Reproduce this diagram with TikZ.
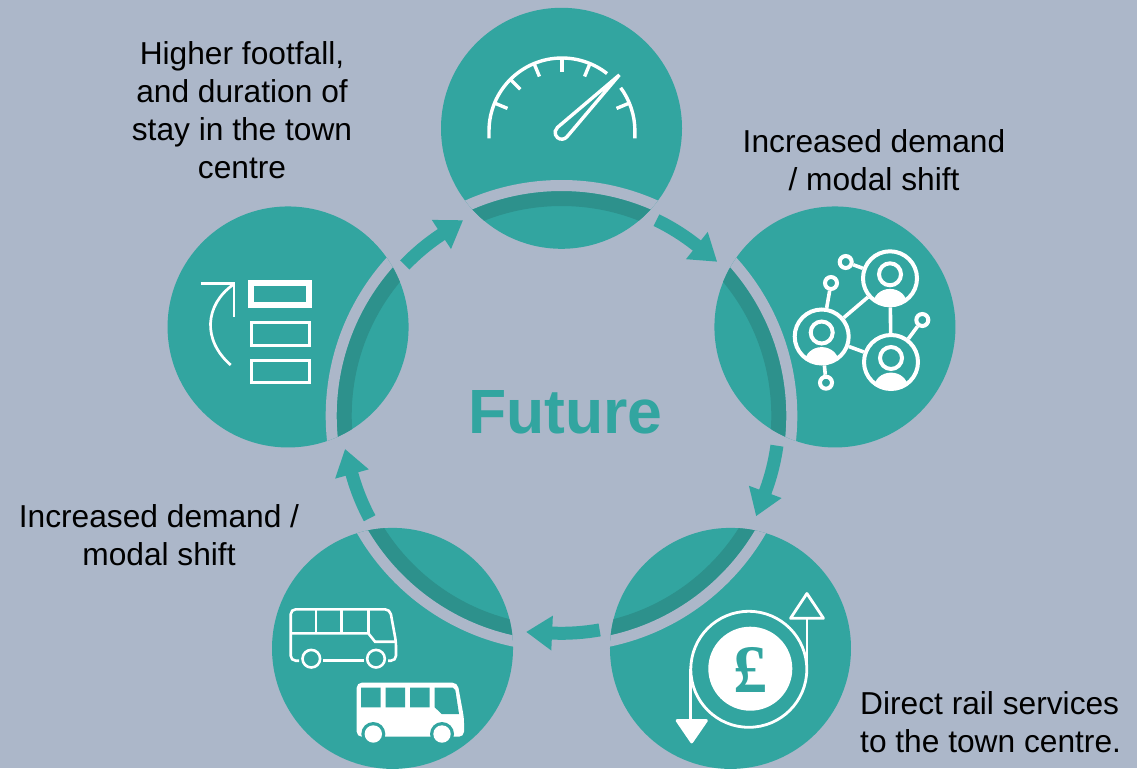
\documentclass[tikz,border=0pt]{standalone}
\usepackage{fontspec}
\setmainfont{Liberation Sans}
\newfontfamily\poundfont{Liberation Serif}
\usetikzlibrary{arrows.meta}
\definecolor{bgcol}{RGB}{172,183,201}
\definecolor{tealcol}{RGB}{50,165,160}
\definecolor{darkcol}{RGB}{45,145,140}
\tikzset{
  hub/.style={circle,fill=tealcol,minimum size=241pt,inner sep=0pt,outer sep=0pt},
  flowline/.style={draw=tealcol,line width=13pt,-{Triangle[length=26pt,width=33pt]}},
  label/.style={font=\fontsize{31.7}{38}\selectfont,text=black,align=center,inner sep=0pt},
  icon/.style={draw=white,line width=3.4pt},
  thin icon/.style={draw=white,line width=2.6pt},
  pnode/.style={circle,draw=white,line width=4pt,minimum size=54pt,inner sep=0pt},
  snode/.style={circle,draw=white,line width=4pt,minimum size=12pt,inner sep=0pt},
  link/.style={draw=white,line width=3.6pt}
}
\begin{document}
\begin{tikzpicture}[x=1pt,y=-1pt]
\useasboundingbox (0,0) rectangle (1137,768);
\fill[bgcol] (0,0) rectangle (1137,768);
\coordinate (ctr) at (561.5,415.8);
% hubs with ring bands
\foreach \i/\a in {1/-90,2/-18,3/54,4/126,5/198}{
  \node[hub] (hub\i) at ([shift={(\a:287.5)}]ctr) {};
  \begin{scope}
    \clip (hub\i) circle[radius=120.5];
    \fill[darkcol,even odd rule] (ctr) circle[radius=224.8] (ctr) circle[radius=209.8];
    \fill[bgcol,even odd rule] (ctr) circle[radius=235.8] (ctr) circle[radius=224.8];
  \end{scope}
}
% flow arrows
\foreach \i/\a in {1/-90,2/-18,3/54,4/126,5/198}{
  \coordinate (s\i) at ([shift={({\a+25.9}:217.5)}]ctr);
  \coordinate (t\i) at ([shift={({\a+45.3}:219)}]ctr);
  \draw[flowline] (s\i) arc[start angle={\a+25.9},end angle={\a+38.3},radius=217.5] -- (t\i);
}
% gauge
\coordinate (g) at (562,131);
\draw[icon] (489,138.3) -- (489,131) arc[start angle=180,end angle=308.1,radius=73];
\draw[icon] (634.9,138.3) -- (634.9,131) arc[start angle=0,end angle=-36.4,radius=72.9];
\foreach \t in {-157.5,-135,-112.5,-90,-67.5,-22.5}{
  \draw[icon] ([shift={(\t:73)}]g) -- ([shift={(\t:59)}]g);
}
\draw[icon,line join=miter] (619.3,75) -- ([shift={(40.3:6.7)}]561.8,132.5) arc[start angle=40.3,end angle=229.7,radius=6.7] -- cycle;
% network
\node[pnode] (pA) at (890,278.3) {};
\node[pnode] (pB) at (821.7,336.5) {};
\node[pnode] (pC) at (891,362) {};
\node[snode] (sa) at (845.7,262) {};
\node[snode] (sb) at (831,283) {};
\node[snode] (sc) at (826,382.7) {};
\node[snode] (sd) at (922.3,320) {};
\draw[link] (sa) -- (pA);
\draw[link] (sb) -- (pB);
\draw[link] (sc) -- (pB);
\draw[link] (sd) -- (pC);
\draw[link] (pA) -- (pB);
\draw[link] (pA) -- (pC);
\draw[link] (pB) -- (pC);
\foreach \p in {pA,pB,pC}{
  \draw[icon,line width=4pt] ([shift={(0,-4)}]\p) circle[radius=11];
  \begin{scope}
    \clip (\p) circle[radius=28];
    \fill[white] ([shift={(0,26)}]\p) ellipse[x radius=17,y radius=15.4];
  \end{scope}
}
% pound
\node[circle,fill=white,minimum size=84pt,inner sep=0pt] (coin) at (750.3,668.7) {};
\node[inner sep=0pt,text=tealcol,font=\poundfont\bfseries\fontsize{68}{68}\selectfont] (pound) at (750,670) {£};
\draw[thin icon,line width=2.8pt] (748.8,669.3) circle[radius=58];
\draw[thin icon,line width=2.8pt] (807,672) -- (807,618);
\draw[thin icon,line width=2.8pt] (690.7,669) -- (690.7,720);
\draw[thin icon,line width=2.8pt,line join=round] (806.9,593.5) -- (790.5,618.3) -- (823.5,618.3) -- cycle;
\draw[thin icon,fill=white,line width=2.8pt,line join=round] (691.7,742) -- (677,720.5) -- (706.5,720.5) -- cycle;
% bus outline
\draw[thin icon,rounded corners=5pt] (299,660.7) -- (290.7,660.7) -- (290.7,609.3) -- (390,609.3) -- (396,642) -- (396,660.7) -- (388,660.7);
\draw[thin icon] (290.7,633.3) -- (368.3,633.3) -- (375,641.7) -- (396,641.7);
\draw[thin icon] (316,609.3) -- (316,633.3) (341.7,609.3) -- (341.7,633.3) (368.3,609.3) -- (368.3,633.3);
\draw[thin icon] (311.3,658.7) circle[radius=8.8] (376,658.7) circle[radius=8.8];
\draw[thin icon] (323.3,660.7) -- (364.3,660.7);
% bus filled
\fill[white,rounded corners=5pt] (356.7,736.7) -- (356.7,682.7) -- (457.5,682.7) -- (464,718) -- (464,736.7) -- cycle;
\fill[tealcol] (361,687.7) rectangle (380.7,707.3) (385.7,687.7) rectangle (405,707.3) (410,687.7) rectangle (429.7,707.3);
\fill[tealcol] (434.7,687.7) -- (452.7,687.7) -- (455.3,690) -- (459,714) -- (441.7,714) -- (434.7,707.3) -- cycle;
\fill[tealcol] (373.3,734) circle[radius=12] (442,734) circle[radius=12];
\fill[white] (373.3,734) circle[radius=8.7] (442,734) circle[radius=8.7];
% list icon
\draw[draw=white,line width=6pt] (251.3,283) rectangle (308.7,305.3);
\draw[draw=white,line width=3pt] (251.5,322.8) rectangle (309.5,345.5);
\draw[draw=white,line width=3pt] (251.5,360.8) rectangle (309.5,382.8);
\draw[thin icon,line width=2.7pt] (200.7,283.3) -- (234,283.3) -- (234,316.7);
\draw[thin icon,line width=2.7pt] (232.7,285) .. controls (205,305) and (202,340) .. (230.7,365);
% texts
\node[label] (t-a) at (242,110) {Higher footfall,\\and duration of\\stay in the town\\centre};
\node[label] (t-b) at (874,160.5) {Increased demand\\/ modal shift};
\node[label,align=left,anchor=west] (t-c) at (860,722) {Direct rail services\\to the town centre.};
\node[label] (t-d) at (159,535.5) {Increased demand /\\modal shift};
\node[inner sep=0pt,text=tealcol,font=\bfseries\fontsize{62.5}{62.5}\selectfont] (future) at (565.5,412) {Future};
\end{tikzpicture}
\end{document}
